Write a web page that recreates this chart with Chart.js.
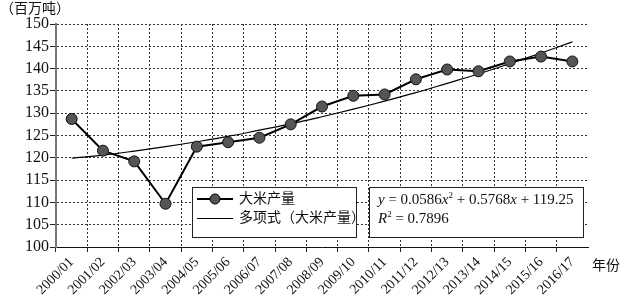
<!DOCTYPE html>
<html>
<head>
<meta charset="utf-8">
<script src="https://cdn.jsdelivr.net/npm/chart.js@4"></script>
<style>
  html, body { margin: 0; padding: 0; background: #fff; }
  #wrap { width: 621px; height: 304px; position: relative; }
</style>
</head>
<body>
<div id="wrap"><canvas id="riceChart"></canvas></div>
<script>
// data
const years = ['2000/01', '2001/02', '2002/03', '2003/04', '2004/05', '2005/06', '2006/07', '2007/08', '2008/09',
  '2009/10', '2010/11', '2011/12', '2012/13', '2013/14', '2014/15', '2015/16', '2016/17'];
const riceOutput = [128.7, 121.6, 119.2, 109.7, 122.5, 123.5, 124.5, 127.5, 131.5,
  133.9, 134.2, 137.6, 139.8, 139.4, 141.6, 142.7, 141.6];
const trendOutput = [119.9, 120.6, 121.5, 122.5, 123.6, 124.8, 126.2, 127.6, 129.2,
  130.9, 132.7, 134.6, 136.7, 138.8, 141.1, 143.5, 146.0];
const yTicks = [100, 105, 110, 115, 120, 125, 130, 135, 140, 145, 150];

const serif = '"Liberation Serif", "Times New Roman", "Noto Sans CJK SC", serif';
const cjk = '"Liberation Serif", "Noto Sans CJK SC", serif';

// draw text made of pieces (italic / superscript)
function richText(ctx, x, y, parts, size) {
  let cx = x;
  parts.forEach(p => {
    const s = p.sup ? size * 0.6 : size;
    ctx.font = (p.italic ? 'italic ' : '') + s + 'px ' + serif;
    ctx.fillText(p.t, cx, p.sup ? y - size * 0.3 : y);
    cx += ctx.measureText(p.t).width;
  });
}

const extras = {
  id: 'extras',
  afterDraw(chart) {
    const ctx = chart.ctx;
    ctx.save();
    ctx.fillStyle = '#111';
    ctx.textBaseline = 'middle';

    // axis titles
    ctx.font = '14px ' + cjk;
    ctx.textAlign = 'left';
    ctx.fillText('（百万吨）', 0, 9);
    ctx.fillText('年份', 592, 266);

    // legend box
    ctx.fillStyle = '#fff';
    ctx.fillRect(192, 187, 164, 50);
    ctx.strokeStyle = '#222';
    ctx.lineWidth = 1;
    ctx.strokeRect(192.5, 187.5, 164, 50);

    const ds0 = chart.data.datasets[0];
    const ds1 = chart.data.datasets[1];
    ctx.strokeStyle = '#000';
    ctx.lineWidth = 2;
    ctx.beginPath(); ctx.moveTo(197, 199); ctx.lineTo(233, 199); ctx.stroke();
    ctx.beginPath(); ctx.arc(215, 199, 5, 0, Math.PI * 2);
    ctx.fillStyle = ds0.pointBackgroundColor; ctx.fill();
    ctx.lineWidth = 1; ctx.stroke();
    ctx.beginPath(); ctx.moveTo(197, 218.5); ctx.lineTo(233, 218.5); ctx.stroke();

    ctx.fillStyle = '#111';
    ctx.font = '14px ' + cjk;
    ctx.fillText(ds0.label, 239, 199);
    ctx.fillText(ds1.label, 239, 218);

    // equation box
    ctx.fillStyle = '#fff';
    ctx.fillRect(369, 187, 214, 50);
    ctx.strokeStyle = '#222';
    ctx.strokeRect(369.5, 187.5, 214, 50);
    ctx.fillStyle = '#111';
    ctx.textAlign = 'left';
    richText(ctx, 378, 200, [
      { t: 'y', italic: true }, { t: ' = 0.0586' }, { t: 'x', italic: true }, { t: '2', sup: true },
      { t: ' + 0.5768' }, { t: 'x', italic: true }, { t: ' + 119.25' }
    ], 15);
    richText(ctx, 378, 219, [
      { t: 'R', italic: true }, { t: '2', sup: true }, { t: ' = 0.7896' }
    ], 15);
    ctx.restore();
  }
};

new Chart(document.getElementById('riceChart'), {
  type: 'line',
  data: {
    labels: years,
    datasets: [
      {
        label: '大米产量',
        data: riceOutput,
        borderColor: '#000',
        borderWidth: 2,
        pointRadius: 5.5,
        pointBackgroundColor: '#555',
        pointBorderColor: '#111',
        pointBorderWidth: 1,
        tension: 0,
        order: 0
      },
      {
        label: '多项式（大米产量）',
        data: trendOutput,
        borderColor: '#000',
        borderWidth: 1.2,
        pointRadius: 0,
        tension: 0.4,
        order: 1
      }
    ]
  },
  options: {
    responsive: true,
    maintainAspectRatio: false,
    animation: false,
    layout: { padding: { left: 0, right: 33, top: 24, bottom: 0 } },
    plugins: { legend: { display: false }, tooltip: { enabled: false } },
    scales: {
      x: {
        offset: true,
        grid: {
          offset: true,
          color: c => c.type === 'tick' && c.index > 0 ? '#333' : 'transparent',
          tickColor: c => c.type === 'tick' ? '#222' : 'transparent',
          tickLength: 5,
          tickBorderDash: []
        },
        border: { color: '#111', width: 1, dash: [2, 2] },
        ticks: {
          minRotation: 45, maxRotation: 45, padding: 2,
          color: '#111',
          font: { family: serif, size: 14 }
        },
        afterFit: s => { s.height = 57; }
      },
      y: {
        min: 100, max: 150,
        afterBuildTicks: s => { s.ticks = yTicks.map(v => ({ value: v })); },
        grid: {
          color: c => c.tick && c.tick.value > 100 ? '#333' : 'transparent',
          tickColor: '#222',
          tickLength: 6,
          tickBorderDash: []
        },
        border: { color: '#777', width: 2, dash: [2, 2] },
        ticks: {
          padding: 1,
          color: '#111',
          font: { family: serif, size: 16 }
        },
        afterFit: s => { s.width = 56; }
      }
    }
  },
  plugins: [extras]
});
</script>
</body>
</html>
